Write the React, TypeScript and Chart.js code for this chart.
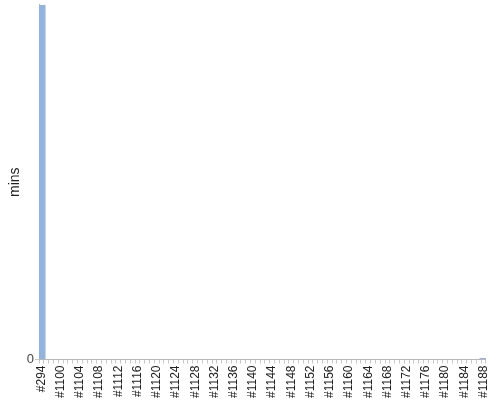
import React, { useRef, useEffect } from 'react';
import { Chart, ChartConfiguration, registerables } from 'chart.js';

Chart.register(...registerables);

// Build numbers on the x axis
const builds: string[] = [
  '#294', '#1097', '#1098', '#1099',
  '#1100', '#1101', '#1102', '#1103', '#1104', '#1105', '#1106', '#1107',
  '#1108', '#1109', '#1110', '#1111', '#1112', '#1113', '#1114', '#1115',
  '#1116', '#1117', '#1118', '#1119', '#1120', '#1121', '#1122', '#1123',
  '#1124', '#1125', '#1126', '#1127', '#1128', '#1129', '#1130', '#1131',
  '#1132', '#1133', '#1134', '#1135', '#1136', '#1137', '#1138', '#1139',
  '#1140', '#1141', '#1142', '#1143', '#1144', '#1145', '#1146', '#1147',
  '#1148', '#1149', '#1150', '#1151', '#1152', '#1153', '#1154', '#1155',
  '#1156', '#1157', '#1158', '#1159', '#1160', '#1161', '#1162', '#1163',
  '#1164', '#1165', '#1166', '#1167', '#1168', '#1169', '#1170', '#1171',
  '#1172', '#1173', '#1174', '#1175', '#1176', '#1177', '#1178', '#1179',
  '#1180', '#1181', '#1182', '#1183', '#1184', '#1185', '#1186', '#1187',
  '#1188',
];

// Duration in minutes per build (#294 runs far off the top of the axis)
const durations: number[] = [
  500, 0, 0, 0,
  0, 0, 0, 0, 0, 0, 0, 0,
  0, 0, 0, 0, 0, 0, 0, 0,
  0, 0, 0, 0, 0, 0, 0, 0,
  0, 0, 0, 0, 0, 0, 0, 0,
  0, 0, 0, 0, 0, 0, 0, 0,
  0, 0, 0, 0, 0, 0, 0, 0,
  0, 0, 0, 0, 0, 0, 0, 0,
  0, 0, 0, 0, 0, 0, 0, 0,
  0, 0, 0, 0, 0, 0, 0, 0,
  0, 0, 0, 0, 0, 0, 0, 0,
  0, 0, 0, 0, 0, 0, 0, 0,
  2,
];

const yTicks: number[] = [0];
const yMax = 500;

const App: React.FC = () => {
  const chartRef = useRef<HTMLCanvasElement>(null);
  const chartInstance = useRef<Chart | null>(null);

  useEffect(() => {
    if (!chartRef.current) return;
    if (chartInstance.current) chartInstance.current.destroy();
    const ctx = chartRef.current.getContext('2d');
    if (!ctx) return;

    const config: ChartConfiguration = {
      type: 'bar',
      data: {
        labels: builds,
        datasets: [
          {
            label: 'mins',
            data: durations,
            backgroundColor: '#8fb4e3',
            borderColor: '#aab6c4',
            borderWidth: { top: 1, right: 1, left: 0, bottom: 0 },
            barThickness: 8,
          },
        ],
      },
      options: {
        responsive: true,
        maintainAspectRatio: false,
        animation: false,
        layout: { padding: { top: 0, right: 13, left: 7, bottom: 0 } },
        plugins: {
          legend: { display: false },
          tooltip: { enabled: false },
        },
        scales: {
          x: {
            grid: {
              display: true,
              drawOnChartArea: false,
              drawTicks: true,
              tickLength: 4,
              color: '#c8c8c8',
            },
            border: { display: true, color: '#b8b8b8' },
            ticks: {
              autoSkip: false,
              minRotation: 90,
              maxRotation: 90,
              padding: 2,
              color: '#222',
              font: { family: 'Arial, "Liberation Sans"', size: 12 },
              callback: (_v, i) => (i % 4 === 0 ? builds[i] : ''),
            },
          },
          y: {
            min: 0,
            max: yMax,
            afterBuildTicks: (axis) => {
              axis.ticks = yTicks.map((v) => ({ value: v }));
            },
            grid: {
              display: true,
              drawOnChartArea: false,
              drawTicks: true,
              tickLength: 4,
              color: '#c8c8c8',
            },
            border: { display: true, color: '#b8b8b8' },
            ticks: {
              color: '#444',
              padding: 1,
              font: { family: 'Arial, "Liberation Sans"', size: 13 },
            },
            title: {
              display: true,
              text: 'mins',
              color: '#222',
              font: { family: 'Arial, "Liberation Sans"', size: 14 },
              padding: { top: 0, bottom: 2 },
            },
          },
        },
      },
    };

    chartInstance.current = new Chart(ctx, config);
    return () => {
      if (chartInstance.current) chartInstance.current.destroy();
    };
  }, []);

  return (
    <div style={{ position: 'fixed', left: 0, top: -4, width: 500, height: 404, background: '#fff' }}>
      <canvas ref={chartRef}></canvas>
    </div>
  );
};

export default App;
